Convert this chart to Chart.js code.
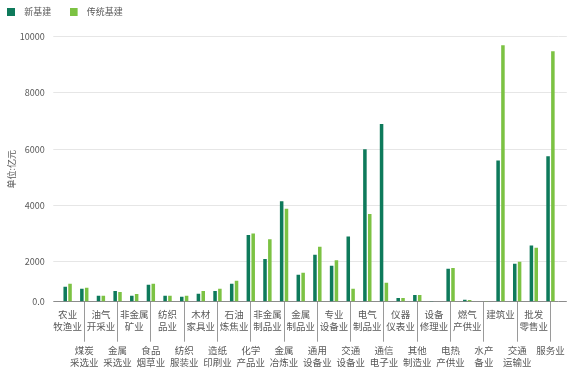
<!DOCTYPE html>
<html>
<head>
<meta charset="utf-8">
<script src="https://cdn.jsdelivr.net/npm/chart.js@4.4.0/dist/chart.umd.min.js"></script>
<style>
html, body { margin: 0; padding: 0; background: #fff; }
#wrap { width: 576px; height: 374px; }
</style>
</head>
<body>
<div id="wrap"><canvas id="myChart"></canvas></div>
<script>
// 系列名
const seriesNames = ['新基建', '传统基建'];

// 行业（x轴顺序）
const categories = [
    '农业牧渔业', '煤炭采选业', '油气开采业', '金属采选业', '非金属矿业', '食品烟草业',
    '纺织品业', '纺织服装业', '木材家具业', '造纸印刷业', '石油炼焦业', '化学产品业',
    '非金属制品业', '金属冶炼业', '金属制品业', '通用设备业', '专业设备业', '交通设备业',
    '电气制品业', '通信电子业', '仪器仪表业', '其他制造业', '设备修理业', '电热产供业',
    '燃气产供业', '水产备业', '建筑业', '交通运输业', '批发零售业', '服务业'
];

// 刻度标签（两行）
const tickLabels = [
    ['农业', '牧渔业'], ['煤炭', '采选业'], ['油气', '开采业'], ['金属', '采选业'],
    ['非金属', '矿业'], ['食品', '烟草业'], ['纺织', '品业'], ['纺织', '服装业'],
    ['木材', '家具业'], ['造纸', '印刷业'], ['石油', '炼焦业'], ['化学', '产品业'],
    ['非金属', '制品业'], ['金属', '冶炼业'], ['金属', '制品业'], ['通用', '设备业'],
    ['专业', '设备业'], ['交通', '设备业'], ['电气', '制品业'], ['通信', '电子业'],
    ['仪器', '仪表业'], ['其他', '制造业'], ['设备', '修理业'], ['电热', '产供业'],
    ['燃气', '产供业'], ['水产', '备业'], ['建筑业'], ['交通', '运输业'],
    ['批发', '零售业'], ['服务业']
];

// 单位:亿元
const newInfra = [
    750, 650, 300, 535, 300, 850, 300, 250, 400, 535, 900, 2950,
    2100, 4150, 1350, 2250, 1800, 2900, 6000, 6900, 180, 330, 30, 1650,
    100, 20, 5600, 1900, 2580, 5750
];
const oldInfra = [
    900, 700, 300, 485, 385, 900, 300, 300, 535, 650, 1050, 3000,
    2800, 3880, 1450, 2530, 2050, 650, 3700, 950, 180, 335, 20, 1680,
    90, 10, 9700, 2000, 2500, 9480
];

const yMin = 0;
const yMax = 10000;
const yStep = 2000;

const DARK = '#0e7a5b';
const LIGHT = '#7cc243';
const TEXT = '#595959';
const GRID = '#e6e6e6';
const AXIS = '#8c8c8c';

// 0～2000 の区間が他より詰まっている軸
const BREAK_VALUE = 2000;
const BREAK_SHARE = 40 / 265;

class BrokenLinearScale extends Chart.LinearScale {
    getPixelForValue(value) {
        let d;
        if (value <= BREAK_VALUE) {
            d = (value - this.min) / (BREAK_VALUE - this.min) * BREAK_SHARE;
        } else {
            d = BREAK_SHARE + (value - BREAK_VALUE) / (this.max - BREAK_VALUE) * (1 - BREAK_SHARE);
        }
        return this.getPixelForDecimal(d);
    }
    getValueForPixel(pixel) {
        const d = this.getDecimalForPixel(pixel);
        if (d <= BREAK_SHARE) {
            return this.min + d / BREAK_SHARE * (BREAK_VALUE - this.min);
        }
        return BREAK_VALUE + (d - BREAK_SHARE) / (1 - BREAK_SHARE) * (this.max - BREAK_VALUE);
    }
}
BrokenLinearScale.id = 'brokenLinear';
BrokenLinearScale.defaults = Chart.LinearScale.defaults;
Chart.register(BrokenLinearScale);

// 凡例の四角（左寄せ）
function legendSwatch(color) {
    const c = document.createElement('canvas');
    c.width = 13;
    c.height = 8;
    const g = c.getContext('2d');
    g.fillStyle = color;
    g.fillRect(0, 0, 8, 8);
    return c;
}
const swatches = [legendSwatch(DARK), legendSwatch(LIGHT)];

const LEGEND_PAD = 18.6;
const legendShift = {
    id: 'legendShift',
    afterLayout(chart) {
        chart.legend.left = 7.25 - LEGEND_PAD;
        chart.legend.top = 7.5 - LEGEND_PAD;
    }
};

const gridColor = ctx => (ctx.tick && ctx.tick.value === 0 ? AXIS : GRID);

Chart.defaults.font.family = '"Noto Sans CJK SC", "Noto Sans", sans-serif';
Chart.defaults.color = TEXT;

var myChart = new Chart(document.getElementById('myChart').getContext('2d'), {
    type: 'bar',
    data: {
        labels: categories,
        datasets: [{
            label: seriesNames[0],
            data: newInfra,
            backgroundColor: DARK,
            borderWidth: 0,
            categoryPercentage: 0.58,
            barPercentage: 0.73
        },
        {
            label: seriesNames[1],
            data: oldInfra,
            backgroundColor: LIGHT,
            borderWidth: 0,
            categoryPercentage: 0.58,
            barPercentage: 0.73
        }]
    },
    options: {
        responsive: true,
        maintainAspectRatio: false,
        animation: false,
        layout: { padding: 0 },
        plugins: {
            tooltip: { enabled: false },
            legend: {
                position: 'top',
                align: 'start',
                maxHeight: 36.7,
                labels: {
                    usePointStyle: true,
                    pointStyleWidth: 12.5,
                    boxHeight: 8,
                    padding: LEGEND_PAD,
                    font: { size: 9 },
                    generateLabels: chart => chart.data.datasets.map((ds, i) => ({
                        text: ds.label,
                        fillStyle: ds.backgroundColor,
                        strokeStyle: ds.backgroundColor,
                        lineWidth: 0,
                        pointStyle: swatches[i],
                        fontColor: TEXT,
                        hidden: false,
                        datasetIndex: i
                    }))
                }
            }
        },
        scales: {
            x: {
                offset: true,
                border: { display: false },
                grid: {
                    offset: false,
                    drawOnChartArea: false,
                    tickLength: 40,
                    tickWidth: 1,
                    tickColor: ctx => (ctx.index % 2 ? '#9a9a9a' : 'rgba(0,0,0,0)')
                },
                ticks: {
                    autoSkip: false,
                    maxRotation: 0,
                    minRotation: 0,
                    padding: -33.5,
                    color: TEXT,
                    font: { size: 9.5, lineHeight: 1.27 },
                    // 奇数番目は下段に表示
                    callback: (v, i) => (i % 2 ? ['', '', ''].concat(tickLabels[i]) : tickLabels[i])
                },
                afterFit: s => { s.height = 72.3; }
            },
            y: {
                type: 'brokenLinear',
                min: yMin,
                max: yMax,
                border: { display: false },
                grid: { tickLength: 6, color: gridColor, tickColor: gridColor },
                ticks: {
                    stepSize: yStep,
                    padding: 8.6,
                    color: TEXT,
                    font: { size: 9 },
                    callback: v => (v === 0 ? '0.0' : String(v))
                },
                title: {
                    display: true,
                    text: '单位:亿元',
                    color: TEXT,
                    font: { size: 9 },
                    padding: { top: 6.3, bottom: 2 }
                },
                afterFit: s => { s.width = 59.3; }
            },
            y2: {
                type: 'brokenLinear',
                position: 'right',
                min: yMin,
                max: yMax,
                border: { display: false },
                grid: { drawOnChartArea: false, tickLength: 8, tickColor: gridColor },
                ticks: { stepSize: yStep, display: false },
                afterFit: s => { s.width = 17.2; }
            }
        }
    },
    plugins: [legendShift]
});
</script>
</body>
</html>
